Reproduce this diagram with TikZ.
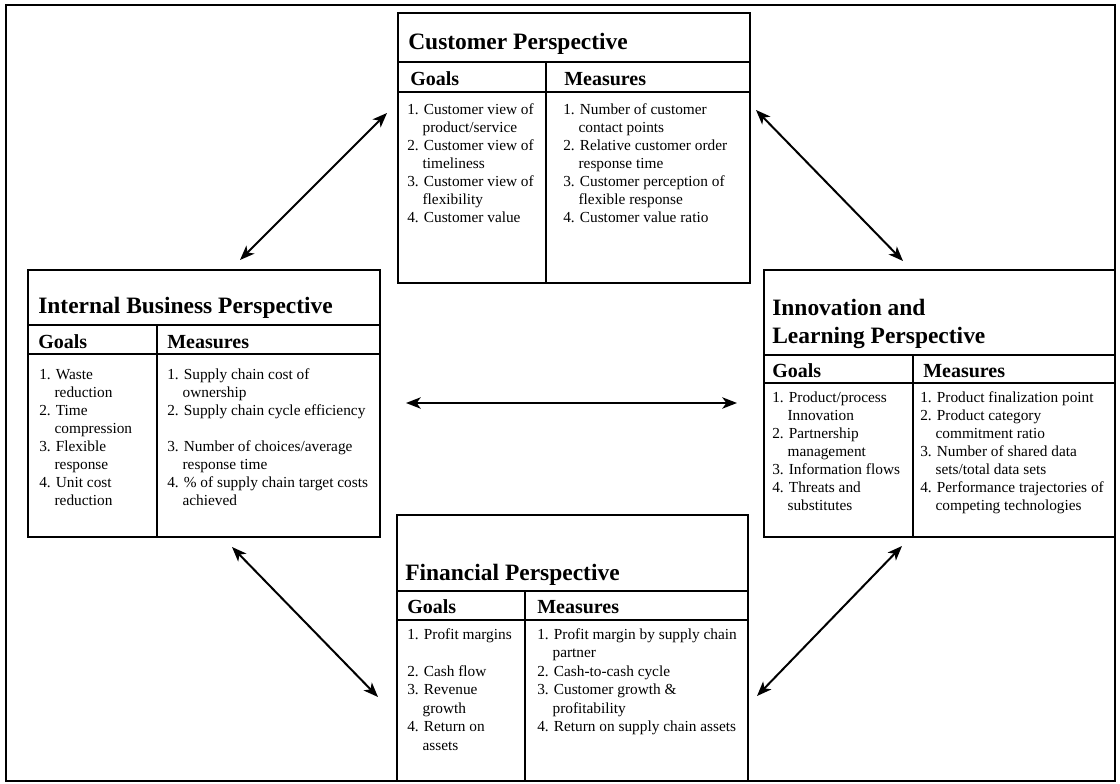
\documentclass[tikz,border=0pt]{standalone}
\usepackage{fontspec}
\setmainfont{Liberation Serif}
\usetikzlibrary{arrows.meta}
\begin{document}
\begin{tikzpicture}[x=0.75pt,y=-0.75pt,
  boxline/.style={line width=1.6pt},
  sepline/.style={line width=1.4pt},
  ptitle/.style={anchor=base west,inner sep=0pt,font=\fontsize{17.6}{21}\selectfont\bfseries},
  ptitlem/.style={anchor=north west,inner sep=0pt,font=\fontsize{17.6}{21}\selectfont\bfseries,align=left},
  phead/.style={anchor=base west,inner sep=0pt,font=\fontsize{15}{18}\selectfont\bfseries},
  pbody/.style={anchor=north west,inner sep=0pt,font=\fontsize{11.5}{13.5}\selectfont,align=left},
  pbodyf/.style={anchor=north west,inner sep=0pt,font=\fontsize{11.5}{13.9}\selectfont,align=left},
  link/.style={line width=1.5pt,{Stealth[length=11pt,width=8.5pt,inset=3pt]}-{Stealth[length=11pt,width=8.5pt,inset=3pt]}}]
\useasboundingbox (0,0) rectangle (1120,784);
\newcommand{\fl}{\rule{0pt}{9pt}}
\newcommand{\ind}{\hspace*{1em}}
% outer frame
\draw[boxline] (6,5) rectangle (1115,781);

% ---------- Customer perspective ----------
\draw[boxline] (398,13) rectangle (750,283);
\draw[sepline] (398,62) -- (750,62);
\draw[sepline] (398,92) -- (750,92);
\draw[sepline] (546,62) -- (546,283);
\node[ptitle] (custT) at (408,50) {Customer Perspective};
\node[phead] (custG) at (410,86) {Goals};
\node[phead] (custM) at (564,86) {Measures};
\node[pbody] (custGB) at (407,102) {\fl 1. Customer view of\\ \ind product/service\\ 2. Customer view of\\ \ind timeliness\\ 3. Customer view of\\ \ind flexibility\\ 4. Customer value};
\node[pbody] (custMB) at (563,102) {\fl 1. Number of customer\\ \ind contact points\\ 2. Relative customer order\\ \ind response time\\ 3. Customer perception of\\ \ind flexible response\\ 4. Customer value ratio};

% ---------- Internal business perspective ----------
\draw[boxline] (28,270) rectangle (380,537);
\draw[sepline] (28,325) -- (380,325);
\draw[sepline] (28,354) -- (380,354);
\draw[sepline] (157,325) -- (157,537);
\node[ptitle] (intT) at (38,313) {Internal Business Perspective};
\node[phead] (intG) at (38,348) {Goals};
\node[phead] (intM) at (167,348) {Measures};
\node[pbody] (intGB) at (39,367) {\fl 1. Waste\\ \ind reduction\\ 2. Time\\ \ind compression\\ 3. Flexible\\ \ind response\\ 4. Unit cost\\ \ind reduction};
\node[pbody] (intMB) at (167,367) {\fl 1. Supply chain cost of\\ \ind ownership\\ 2. Supply chain cycle efficiency\\ \mbox{}\\ 3. Number of choices/average\\ \ind response time\\ 4. \% of supply chain target costs\\ \ind achieved};

% ---------- Innovation and learning perspective ----------
\draw[boxline] (764,270) rectangle (1115,537);
\draw[sepline] (764,355) -- (1115,355);
\draw[sepline] (764,383) -- (1115,383);
\draw[sepline] (913,355) -- (913,537);
\node[ptitlem] (innT) at (772,297.7) {\rule{0pt}{13pt}Innovation and\\ Learning Perspective};
\node[phead] (innG) at (772,377) {Goals};
\node[phead] (innM) at (923,377) {Measures};
\node[pbody] (innGB) at (772,390) {\fl 1. Product/process\\ \ind Innovation\\ 2. Partnership\\ \ind management\\ 3. Information flows\\ 4. Threats and\\ \ind substitutes};
\node[pbody] (innMB) at (920,390) {\fl 1. Product finalization point\\ 2. Product category\\ \ind commitment ratio\\ 3. Number of shared data\\ \ind sets/total data sets\\ 4. Performance trajectories of\\ \ind competing technologies};

% ---------- Financial perspective ----------
\draw[boxline] (397,515) rectangle (748,781);
\draw[sepline] (397,591) -- (748,591);
\draw[sepline] (397,620) -- (748,620);
\draw[sepline] (525,591) -- (525,781);
\node[ptitle] (finT) at (405,580) {Financial Perspective};
\node[phead] (finG) at (407,613) {Goals};
\node[phead] (finM) at (537,613) {Measures};
\node[pbodyf] (finGB) at (407,627) {\fl 1. Profit margins\\ \mbox{}\\ 2. Cash flow\\ 3. Revenue\\ \ind growth\\ 4. Return on\\ \ind assets};
\node[pbodyf] (finMB) at (537,627) {\fl 1. Profit margin by supply chain\\ \ind partner\\ 2. Cash-to-cash cycle\\ 3. Customer growth \&\\ \ind profitability\\ 4. Return on supply chain assets};

% ---------- connectors ----------
\coordinate (ciA) at (387,113);
\coordinate (ciB) at (240,260);
\coordinate (cnA) at (756,110);
\coordinate (cnB) at (903,261);
\coordinate (hA) at (406,403);
\coordinate (hB) at (737,403);
\coordinate (ifA) at (232,547);
\coordinate (ifB) at (378,697);
\coordinate (nfA) at (902,546);
\coordinate (nfB) at (757,696);
\draw[link] (ciA) -- (ciB);
\draw[link] (cnA) -- (cnB);
\draw[link] (hA) -- (hB);
\draw[link] (ifA) -- (ifB);
\draw[link] (nfA) -- (nfB);
\end{tikzpicture}
\end{document}
